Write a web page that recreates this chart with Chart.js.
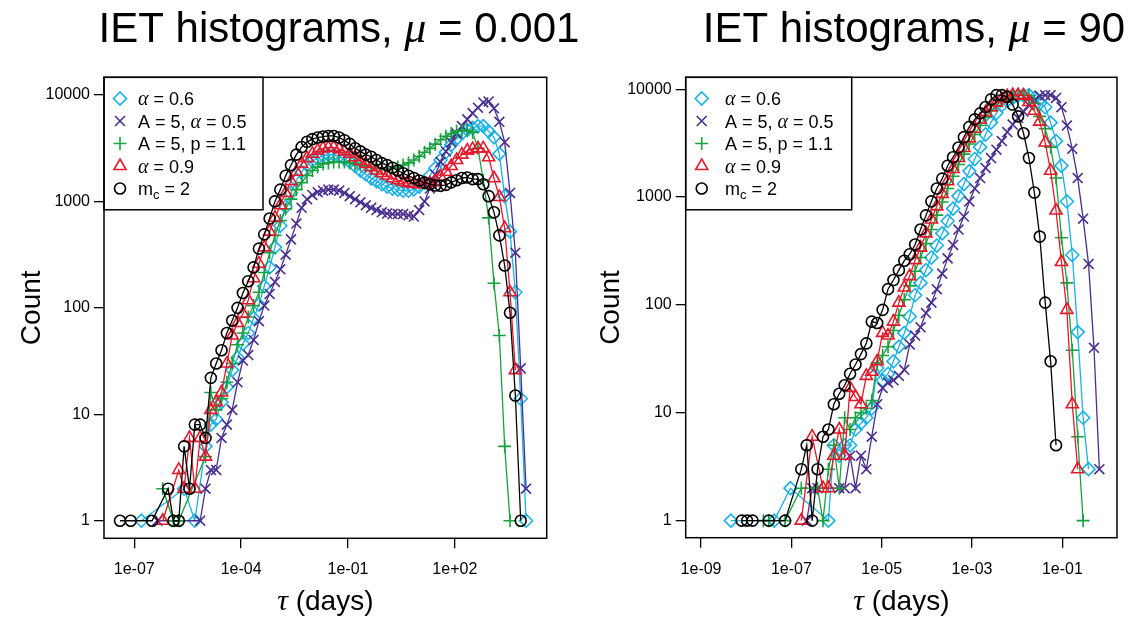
<!DOCTYPE html>
<html>
<head>
<meta charset="utf-8">
<script src="https://cdn.jsdelivr.net/npm/chart.js@4.4.1/dist/chart.umd.min.js"></script>
<style>
  body { margin: 0; background: #fff; width: 1131px; height: 633px; overflow: hidden; }
  canvas { position: absolute; top: 0; left: 0; }
</style>
</head>
<body>
<canvas id="left" width="1131" height="633"></canvas>
<canvas id="right" width="1131" height="633"></canvas>
<script>
const _ = null;

// ---------- left panel (mu = 0.001): bin centres as log10(tau), counts per bin ----------
const tauExpLeft = [-7.4,-7.25,-7.1,-6.95,-6.8,-6.65,-6.5,-6.35,-6.2,-6.05,
  -5.9,-5.75,-5.6,-5.45,-5.3,-5.15,-5.0,-4.85,-4.7,-4.55,
  -4.4,-4.25,-4.1,-3.95,-3.8,-3.65,-3.5,-3.35,-3.2,-3.05,
  -2.9,-2.75,-2.6,-2.45,-2.3,-2.15,-2.0,-1.85,-1.7,-1.55,
  -1.4,-1.25,-1.1,-0.95,-0.8,-0.65,-0.5,-0.35,-0.2,-0.05,
  0.1,0.25,0.4,0.55,0.7,0.85,1.0,1.15,1.3,1.45,
  1.6,1.75,1.9,2.05,2.2,2.35,2.5,2.65,2.8,2.95,
  3.1,3.25,3.4,3.55,3.7,3.85,4.0];

const alpha06Left = [_,_,_,_,1,_,_,_,_,_,
  _,_,2,_,1,_,5,8,9,13,
  18,26,34,46,58,80,107,160,240,370,
  590,890,1200,1580,1900,2200,2400,2550,2700,2750,
  2750,2650,2500,2350,2150,1950,1800,1650,1550,1450,
  1380,1320,1290,1260,1260,1300,1380,1500,1750,2050,
  2450,2900,3400,3900,4350,4700,4900,5100,5100,4550,
  4000,2800,1120,520,140,14,1];

const a5alpha05Left = [_,_,_,_,_,_,_,1,_,_,
  _,_,_,_,_,1,2,3,3,6,
  8,11,20,32,36,50,75,105,135,175,
  230,316,440,620,870,1050,1150,1220,1260,1290,
  1290,1260,1200,1120,1050,980,920,870,830,790,
  770,760,760,760,740,720,830,1000,1320,1780,
  2350,2950,3600,4350,5100,5900,6750,7600,8500,8700,
  7500,5600,3600,1200,330,27,2];

const a5p11Left = [_,_,_,_,_,_,_,_,2,_,
  1,1,_,_,_,_,4,16,11,14,
  20,30,45,58,82,105,140,215,330,480,
  660,850,1050,1290,1500,1750,1950,2100,2250,2300,
  2350,2350,2350,2300,2250,2200,2150,2100,2050,2050,
  2050,2050,2100,2200,2300,2450,2650,2900,3150,3450,
  3800,4100,4350,4550,4650,4650,4450,3150,1580,700,
  170,55,5,1,_,_,_];

const alpha09Left = [_,_,_,_,_,_,_,_,1,_,
  _,3,2,6,2,6,4,11,13,16,
  30,55,72,88,118,190,260,370,520,700,
  920,1200,1550,1900,2250,2550,2800,3000,3150,3200,
  3200,3100,2950,2800,2600,2400,2250,2100,1950,1850,
  1750,1650,1580,1520,1480,1460,1450,1450,1480,1560,
  1700,1900,2150,2450,2750,3000,3100,3150,3150,2600,
  1650,1100,560,140,26,_,_];

const mc2Left = [1,_,1,_,_,_,1,_,_,2,
  1,1,5,2,8,8,6,22,30,40,
  58,76,100,138,178,240,360,490,690,1000,
  1290,1740,2190,2750,3240,3630,3850,3980,4070,4120,
  4120,3980,3760,3470,3160,2950,2750,2630,2450,2290,
  2190,2070,1950,1840,1740,1660,1570,1500,1450,1410,
  1400,1430,1510,1580,1660,1680,1620,1620,1450,1120,
  790,480,250,90,15,1,_];

// ---------- right panel (mu = 90) ----------
const tauExpRight = [-8.34,-8.22,-8.1,-7.98,-7.86,-7.74,-7.62,-7.5,-7.38,-7.26,
  -7.14,-7.02,-6.9,-6.78,-6.66,-6.54,-6.42,-6.3,-6.18,-6.06,
  -5.94,-5.82,-5.7,-5.58,-5.46,-5.34,-5.22,-5.1,-4.98,-4.86,
  -4.74,-4.62,-4.5,-4.38,-4.26,-4.14,-4.02,-3.9,-3.78,-3.66,
  -3.54,-3.42,-3.3,-3.18,-3.06,-2.94,-2.82,-2.7,-2.58,-2.46,
  -2.34,-2.22,-2.1,-1.98,-1.86,-1.74,-1.62,-1.5,-1.38,-1.26,
  -1.14,-1.02,-0.9,-0.78,-0.66,-0.54,-0.42,-0.3,-0.18];

const alpha06Right = [1,_,_,_,_,_,_,_,1,_,
  _,2,_,_,_,_,_,_,1,5,
  4,5,5,7,8,9,11,26,20,23,
  30,41,55,78,123,160,210,275,355,460,
  600,780,1020,1320,1740,2250,2900,3800,4900,6000,
  7100,7800,8300,8700,8800,8800,8300,7400,6800,4900,
  3300,1950,910,290,56,9,3,_,_];

const a5alpha05Right = [_,_,_,_,_,_,_,_,_,_,
  _,_,_,_,1,2,2,_,_,_,
  2,2,4,2,4,3,6,12,17,19,
  20,22,25,43,52,62,84,105,140,195,
  270,360,500,660,910,1200,1500,1860,2300,2750,
  3300,4000,4700,5400,6200,7100,7900,8700,8800,8800,
  8300,6800,4600,2800,1500,630,240,40,3];

const a5p11Right = [_,_,_,_,_,_,1,1,_,_,
  1,_,_,2,_,_,2,1,3,5,
  2,9,7,9,10,11,13,29,34,41,
  58,80,112,150,205,275,370,500,680,900,
  1200,1560,2000,2500,3100,3800,4600,5500,6300,7100,
  7800,8300,8600,8800,8800,8700,7400,5600,4300,2900,
  1500,420,160,38,6,1,_,_,_];

const alpha09Right = [_,_,_,_,_,_,_,_,_,_,
  _,_,_,1,_,6,_,2,2,4,
  7,4,17,14,12,22,24,30,55,52,
  70,105,145,185,260,340,460,620,820,1070,
  1400,1820,2300,2850,3500,4300,5200,6100,6800,7500,
  8100,8600,8800,8800,8700,7600,6300,5000,3200,1750,
  750,250,90,12,3,_,_,_,_];

const mc2Right = [_,_,1,1,1,_,_,1,_,_,
  1,_,_,3,5,1,3,6,7,12,
  15,18,23,28,35,44,70,68,90,140,
  170,210,257,295,363,500,676,912,1200,1480,
  1950,2340,2880,3590,4470,5250,5960,6840,8040,8800,
  8800,8500,7200,5600,3900,2300,1100,430,105,30,
  5,_,_,_,_,_,_,_,_];

// ---------- axes ----------
const xTickExpLeft = [-7, -4, -1, 2];
const xTickLabelsLeft = ['1e-07', '1e-04', '1e-01', '1e+02'];
const xTickExpRight = [-9, -7, -5, -3, -1];
const xTickLabelsRight = ['1e-09', '1e-07', '1e-05', '1e-03', '1e-01'];
const yTickValues = [1, 10, 100, 1000, 10000];
const yTickLabels = ['1', '10', '100', '1000', '10000'];

const SANS = '"Liberation Sans", Arial, Helvetica, sans-serif';
const SERIF = '"Liberation Serif", "DejaVu Serif", serif';

// legend text pieces (series order: alpha .6, A5 alpha .5, A5 p1.1, alpha .9, mc 2)
const legendLabels = [
  [{t: 'α', it: true}, {t: ' = 0.6'}],
  [{t: 'A = 5, '}, {t: 'α', it: true}, {t: ' = 0.5'}],
  [{t: 'A = 5, p = 1.1'}],
  [{t: 'α', it: true}, {t: ' = 0.9'}],
  [{t: 'm'}, {t: 'c', sub: true}, {t: ' = 2'}]
];

const styles = [
  {color: '#1AB2E6', point: 'rectRot', r: 6.5, order: 4},
  {color: '#4A2E8E', point: 'crossRot', r: 7, order: 3},
  {color: '#18A23F', point: 'cross', r: 6.5, order: 2},
  {color: '#E5192C', point: 'triangle', r: 7, order: 1},
  {color: '#000000', point: 'circle', r: 5.5, order: 0}
];

function toPoints(exps, counts) {
  const pts = [];
  exps.forEach((e, i) => { if (counts[i] != null) pts.push({x: Math.pow(10, e), y: counts[i]}); });
  return pts;
}

function drawMarker(ctx, style, r, x, y) {
  ctx.beginPath();
  if (style === 'circle') {
    ctx.arc(x, y, r, 0, Math.PI * 2);
  } else if (style === 'rectRot') {
    ctx.moveTo(x - r, y); ctx.lineTo(x, y - r); ctx.lineTo(x + r, y); ctx.lineTo(x, y + r); ctx.closePath();
  } else if (style === 'triangle') {
    ctx.moveTo(x, y - r); ctx.lineTo(x + r * 0.866, y + r / 2); ctx.lineTo(x - r * 0.866, y + r / 2); ctx.closePath();
  } else if (style === 'cross') {
    ctx.moveTo(x - r, y); ctx.lineTo(x + r, y); ctx.moveTo(x, y - r); ctx.lineTo(x, y + r);
  } else if (style === 'crossRot') {
    const d = r * Math.SQRT1_2;
    ctx.moveTo(x - d, y - d); ctx.lineTo(x + d, y + d); ctx.moveTo(x + d, y - d); ctx.lineTo(x - d, y + d);
  }
  ctx.stroke();
}

function richText(ctx, parts, x, y, align) {
  let w = 0;
  parts.forEach(p => { ctx.font = p.font; w += ctx.measureText(p.text).width; });
  let cx = align === 'center' ? x - w / 2 : x;
  ctx.textAlign = 'left';
  ctx.textBaseline = 'alphabetic';
  parts.forEach(p => {
    ctx.font = p.font;
    ctx.fillText(p.text, cx, y + (p.dy || 0));
    cx += ctx.measureText(p.text).width;
  });
}

const decor = {
  id: 'decor',
  afterDraw(chart, args, o) {
    const ctx = chart.ctx, a = chart.chartArea;
    ctx.save();
    ctx.fillStyle = '#000';
    ctx.strokeStyle = '#000';
    ctx.lineWidth = 1.5;
    ctx.strokeRect(a.left, a.top, a.right - a.left, a.bottom - a.top);

    // title
    richText(ctx, [
      {text: 'IET histograms, ', font: `42px ${SANS}`},
      {text: 'μ', font: `italic 44px ${SERIF}`},
      {text: ' = ' + o.mu, font: `42px ${SANS}`}
    ], o.titleX, 42, 'center');

    // axis titles
    richText(ctx, [
      {text: 'τ', font: `italic 30px ${SERIF}`},
      {text: ' (days)', font: `28px ${SANS}`}
    ], (a.left + a.right) / 2, 610, 'center');
    ctx.save();
    ctx.translate(o.countX, (a.top + a.bottom) / 2);
    ctx.rotate(-Math.PI / 2);
    richText(ctx, [{text: 'Count', font: `28px ${SANS}`}], 0, 0, 'center');
    ctx.restore();

    // legend box
    ctx.lineWidth = 1.5;
    ctx.strokeRect(a.left, a.top, o.legendW, 132.5);
    legendLabels.forEach((lab, i) => {
      const y = 98.5 + 22.5 * i;
      const st = styles[i];
      ctx.strokeStyle = st.color;
      ctx.lineWidth = 1.6;
      drawMarker(ctx, st.point, st.r, a.left + o.markX, y);
      ctx.fillStyle = '#000';
      richText(ctx, lab.map(p => ({
        text: p.t,
        font: p.it ? `italic 20px ${SERIF}` : (p.sub ? `13px ${SANS}` : `18px ${SANS}`),
        dy: p.sub ? 4 : 0
      })), a.left + o.textX, y + 6.5, 'left');
    });
    ctx.restore();
  }
};

function makeChart(id, exps, seriesList, cfg) {
  const datasets = seriesList.map((counts, i) => ({
    data: toPoints(exps, counts),
    borderColor: styles[i].color,
    backgroundColor: 'rgba(0,0,0,0)',
    borderWidth: 1.3,
    pointStyle: styles[i].point,
    pointRadius: styles[i].r,
    pointBorderWidth: 1.6,
    pointBorderColor: styles[i].color,
    pointBackgroundColor: 'rgba(0,0,0,0)',
    tension: 0,
    order: styles[i].order
  }));
  const tickFont = {family: SANS, size: 16};
  return new Chart(document.getElementById(id), {
    type: 'line',
    data: {datasets},
    options: {
      responsive: false,
      devicePixelRatio: 1,
      animation: false,
      layout: {padding: {left: 0, top: 77.3, right: cfg.padRight, bottom: 0}},
      plugins: {legend: {display: false}, tooltip: {enabled: false}, decor: cfg.decor},
      scales: {
        x: {
          type: 'logarithmic',
          min: Math.pow(10, cfg.xMin), max: Math.pow(10, cfg.xMax),
          afterBuildTicks: s => { s.ticks = cfg.xTicks.map(e => ({value: Math.pow(10, e)})); },
          afterFit: s => { s.height = cfg.xHeight; },
          ticks: {autoSkip: false, maxRotation: 0, minRotation: 0, color: '#000', font: tickFont, padding: 12,
                  callback: (v, i) => cfg.xLabels[i]},
          grid: {drawOnChartArea: false, drawTicks: true, tickLength: 10, color: '#000', lineWidth: 1.3},
          border: {display: false}
        },
        y: {
          type: 'logarithmic',
          min: Math.pow(10, cfg.yMin), max: Math.pow(10, cfg.yMax),
          afterBuildTicks: s => { s.ticks = yTickValues.map(v => ({value: v})); },
          afterFit: s => { s.width = cfg.yWidth; },
          ticks: {autoSkip: false, color: '#000', font: tickFont, padding: 4,
                  callback: (v, i) => yTickLabels[i]},
          grid: {drawOnChartArea: false, drawTicks: true, tickLength: 10, color: '#000', lineWidth: 1.3},
          border: {display: false}
        }
      }
    },
    plugins: [decor]
  });
}

makeChart('left', tauExpLeft,
  [alpha06Left, a5alpha05Left, a5p11Left, alpha09Left, mc2Left],
  {xMin: -7.85, xMax: 4.58, yMin: -0.165, yMax: 4.166, xTicks: xTickExpLeft, xLabels: xTickLabelsLeft,
   padRight: 584.3, xHeight: 94.7, yWidth: 104,
   decor: {mu: '0.001', titleX: 339, countX: 40, legendW: 159, markX: 16, textX: 34}});

makeChart('right', tauExpRight,
  [alpha06Right, a5alpha05Right, a5p11Right, alpha09Right, mc2Right],
  {xMin: -9.34, xMax: 0.21, yMin: -0.158, yMax: 4.11, xTicks: xTickExpRight, xLabels: xTickLabelsRight,
   padRight: 14, xHeight: 95.3, yWidth: 685.7,
   decor: {mu: '90', titleX: 914, countX: 619, legendW: 166, markX: 16, textX: 39.3}});
</script>
</body>
</html>
